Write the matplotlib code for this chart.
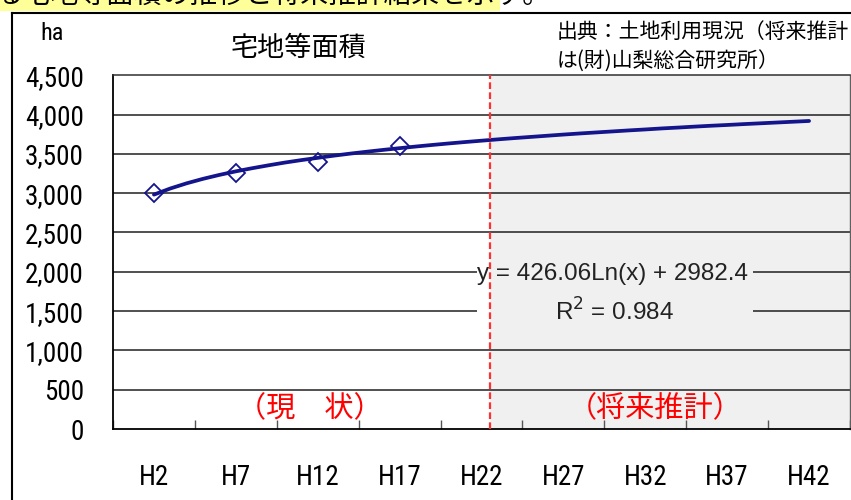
import matplotlib
matplotlib.use('Agg')
import matplotlib.pyplot as plt
from matplotlib import font_manager
from matplotlib.patches import Rectangle
from matplotlib.lines import Line2D

# 宅地等面積 (ha) - 年次の推計線 H2..H42
years = list(range(2, 43))
area = [2982, 3060, 3126, 3183, 3233, 3278, 3318, 3355, 3390, 3421,
        3450, 3478, 3504, 3528, 3551, 3573, 3594, 3614, 3633, 3651,
        3668, 3685, 3701, 3716, 3731, 3746, 3760, 3773, 3786, 3799,
        3811, 3824, 3835, 3847, 3858, 3868, 3879, 3889, 3899, 3909, 3919]

# 実績値 (土地利用現況)
obs_years = [2, 7, 12, 17]
obs_area = [3000, 3255, 3400, 3605]

label_years = [2, 7, 12, 17, 22, 27, 32, 37, 42]
x_labels = ['H2', 'H7', 'H12', 'H17', 'H22', 'H27', 'H32', 'H37', 'H42']
y_ticks = [0, 500, 1000, 1500, 2000, 2500, 3000, 3500, 4000, 4500]
y_labels = ['0', '500', '1,000', '1,500', '2,000', '2,500', '3,000', '3,500', '4,000', '4,500']

equation = 'y = 426.06Ln(x) + 2982.4'
r2 = 'R$^2$ = 0.984'

# 細字体があれば使う、無ければ Liberation Sans を小さめに
installed = {f.name for f in font_manager.fontManager.ttflist}
NARROW = None
for name in ['Liberation Sans Narrow', 'Roboto Condensed', 'Open Sans Condensed']:
    if name in installed:
        NARROW = [name, 'DejaVu Sans']
        tick_size = 19.5
        break
if NARROW is None:
    NARROW = ['Liberation Sans', 'DejaVu Sans']
    tick_size = 16.5

JP = ['Noto Sans CJK JP', 'DejaVu Sans']
NAVY = '#14148c'

fig = plt.figure(figsize=(8.51, 5.0), dpi=100)
ax = fig.add_axes([113 / 851, 1 - 429 / 500, 737 / 851, 353.7 / 500])
ax.set_xlim(-0.5, 44.5)
ax.set_ylim(0, 4500)

# 将来推計の範囲 (灰色)
split = 22.5
ax.axvspan(split, 44.5, color='#f0f0f0', zorder=0, lw=0)

for v in y_ticks[1:-1]:
    ax.axhline(v, color='#202020', lw=1.1, zorder=1)

# 近似式ラベルの背景 (目盛線を隠す)
ax.add_patch(Rectangle((21.72, 1250), split - 21.72, 900, facecolor='white', edgecolor='none', zorder=2))
ax.add_patch(Rectangle((split, 1250), 38.57 - split, 900, facecolor='#f0f0f0', edgecolor='none', zorder=2))

ax.plot(years, area, color=NAVY, lw=2.7, zorder=4, solid_capstyle='round')
ax.plot(obs_years, obs_area, ls='none', marker='D', ms=9.5, mfc='none',
        mec=NAVY, mew=1.3, zorder=5)
ax.axvline(split, color='#ff3030', lw=1.6, dashes=(3, 1.5), zorder=6)

ax.text(30.0, 1972, equation, ha='center', va='center', fontsize=17.5,
        family=['Liberation Sans', 'DejaVu Sans'], color='#222222', zorder=7)
ax.text(30.1, 1489, r2, ha='center', va='center', fontsize=17.5,
        family=['Liberation Sans', 'DejaVu Sans'], color='#222222', zorder=7)

ax.text(11.5, 255, '（現　状）', ha='center', va='center', fontsize=21,
        family=JP, color='#ff0000', zorder=7)
ax.text(32.6, 255, '（将来推計）', ha='center', va='center', fontsize=21,
        family=JP, color='#ff0000', zorder=7)

# 目盛
ax.set_yticks(y_ticks, y_labels)
ax.tick_params(axis='y', length=0, pad=21, labelsize=tick_size)
for t in ax.get_yticklabels():
    t.set_family(NARROW)

ax.set_xticks([-0.5 + 5 * i for i in range(10)])
ax.tick_params(axis='x', which='major', direction='in', length=6.5, width=1,
               color='#555555', labelbottom=False)
ax.set_xticks(label_years, x_labels, minor=True)
ax.tick_params(axis='x', which='minor', length=0, pad=25.5, labelsize=tick_size)
for t in ax.get_xticklabels(minor=True):
    t.set_family(NARROW)

for s in ['left', 'bottom']:
    ax.spines[s].set_color('black')
    ax.spines[s].set_linewidth(1.3)
ax.spines['top'].set_color('#303030')
ax.spines['top'].set_linewidth(1.1)
ax.spines['right'].set_color('#606060')
ax.spines['right'].set_linewidth(1.0)

# 図の枠と見出し (上端で切れている見出し)
fig.add_artist(Rectangle((0, 1 - 11 / 500), 500 / 851, 11 / 500, transform=fig.transFigure,
                         facecolor='#ffff99', edgecolor='none'))
fig.text(-4 / 851, 1 - 3 / 500, 'る宅地等面積の推移と将来推計結果を示す。', fontsize=20,
         family=JP, va='baseline', ha='left', color='black')
fig.add_artist(Line2D([12 / 851, 1], [1 - 13 / 500, 1 - 13 / 500], transform=fig.transFigure,
                      color='black', lw=1.5))
fig.add_artist(Line2D([12 / 851, 12 / 851], [0, 1 - 13 / 500], transform=fig.transFigure,
                      color='black', lw=1.5))

fig.text(52 / 851, 1 - 33 / 500, 'ha', fontsize=tick_size - 2, family=NARROW, ha='center', va='center')
fig.text(298 / 851, 1 - 48 / 500, '宅地等面積', fontsize=19.5, family=JP, ha='center', va='center')
fig.text(557 / 851, 1 - 32 / 500, '出典：土地利用現況（将来推計', fontsize=15, family=JP,
         ha='left', va='center')
fig.text(557 / 851, 1 - 62 / 500, 'は(財)山梨総合研究所）', fontsize=15, family=JP,
         ha='left', va='center')

fig.savefig('out.png', dpi=100)
